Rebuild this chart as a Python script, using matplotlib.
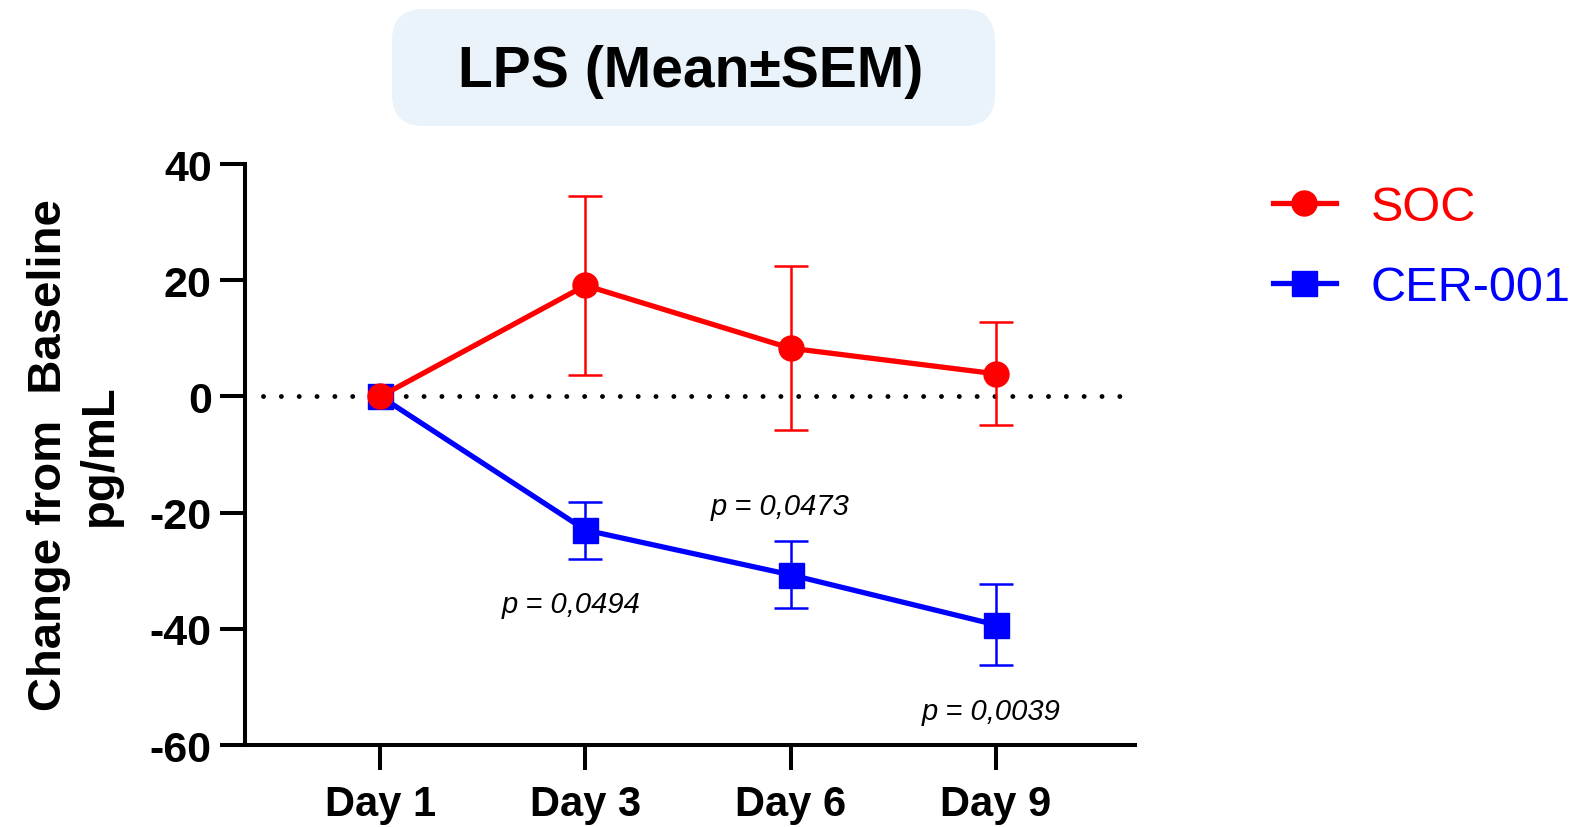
import matplotlib
matplotlib.use('Agg')
import matplotlib.pyplot as plt
from matplotlib.patches import FancyBboxPatch

plt.rcParams['font.family'] = ['Liberation Sans', 'DejaVu Sans']

days = ['Day 1', 'Day 3', 'Day 6', 'Day 9']
soc_mean = [0, 19.1, 8.3, 3.9]
soc_sem = [0, 15.4, 14.1, 8.9]
cer_mean = [0, -23.0, -30.7, -39.3]
cer_sem = [0, 4.9, 5.8, 7.0]
p_labels = ['p = 0,0494', 'p = 0,0473', 'p = 0,0039']
# where each p text sits (x index, y value)
p_pos = [(0.93, -35.7), (1.95, -18.9), (2.98, -54.1)]

x = list(range(len(days)))

fig = plt.figure(figsize=(15.72, 8.28), dpi=100)
ax = fig.add_axes([0.1559, 0.099, 0.722 - 0.1559, 0.8007 - 0.099])

ax.axhline(0, xmin=0.02, xmax=0.984, color='black', lw=3.5,
           linestyle=(0, (0.01, 3.66)), dash_capstyle='round', zorder=1)

ax.errorbar(x[1:], cer_mean[1:], yerr=cer_sem[1:], fmt='none', ecolor='blue',
            elinewidth=1.8, capsize=12, capthick=1.8, zorder=2)
ax.plot(x, cer_mean, color='blue', lw=3.8, marker='s', ms=18, label='CER-001', zorder=3)

ax.errorbar(x[1:], soc_mean[1:], yerr=soc_sem[1:], fmt='none', ecolor='red',
            elinewidth=1.8, capsize=12, capthick=1.8, zorder=4)
ax.plot(x, soc_mean, color='red', lw=3.8, marker='o', ms=18, label='SOC', zorder=5)

for (px, py), txt in zip(p_pos, p_labels):
    ax.text(px, py, txt, fontsize=21, style='italic', ha='center', va='center')

ax.set_xlim(-0.66, 3.68)
ax.set_ylim(-60, 40)
ax.set_xticks(x)
ax.set_xticklabels(days, fontsize=30, fontweight='bold')
ax.set_yticks([-60, -40, -20, 0, 20, 40])
ax.set_yticklabels(['-60', '-40', '-20', '0', '20', '40'], fontsize=31, fontweight='bold')
ax.tick_params(axis='both', length=18, width=2.9, color='black')
ax.tick_params(axis='x', pad=10)
ax.tick_params(axis='y', pad=6)
for s in ['top', 'right']:
    ax.spines[s].set_visible(False)
for s in ['left', 'bottom']:
    ax.spines[s].set_linewidth(2.9)

ax.set_ylabel('Change from  Baseline\npg/mL', fontsize=34, fontweight='bold',
              linespacing=1.2)
ax.yaxis.set_label_coords(-0.138, 0.5)

h, l = ax.get_legend_handles_labels()
leg = fig.legend(h[::-1], l[::-1], loc='upper left', bbox_to_anchor=(0.8095, 0.775),
                 frameon=False, fontsize=35, handlelength=1.3, handletextpad=0.72,
                 labelspacing=0.72, borderaxespad=0, borderpad=0)
for txt, col in zip(leg.get_texts(), ['red', 'blue']):
    txt.set_color(col)

box = FancyBboxPatch((392 / 1572, 1 - 127 / 828), (995 - 392) / 1572, (127 - 10) / 828,
                     boxstyle='round,pad=0,rounding_size=0.02', transform=fig.transFigure,
                     facecolor='#eaf3f9', edgecolor='none', mutation_aspect=1572 / 828)
fig.patches.append(box)
fig.text(691 / 1572, 1 - 72 / 828, 'LPS (Mean±SEM)', fontsize=41, fontweight='bold',
         ha='center', va='center')

fig.savefig('out.png', dpi=100)
